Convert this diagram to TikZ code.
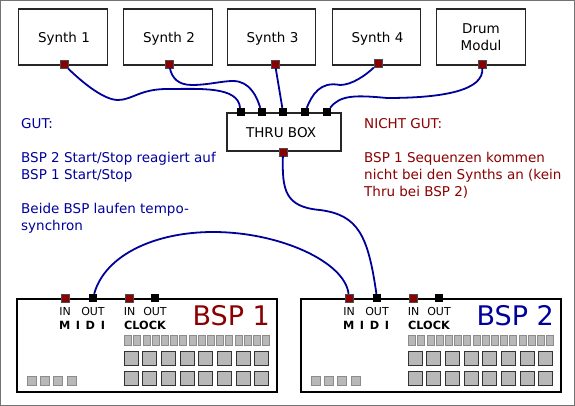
\documentclass[tikz,border=0pt]{standalone}
\usepackage{fontspec}
\setmainfont{DejaVu Sans}
\usetikzlibrary{positioning}
\definecolor{cabel}{HTML}{00009B}
\definecolor{portred}{HTML}{8B0000}
\definecolor{padgray}{HTML}{B8B8B8}
\begin{document}
\begin{tikzpicture}[
  x=1pt, y=-1pt,
  synth/.style={draw=black!85, line width=1.2pt, minimum width=88.5pt, minimum height=56pt, align=center, font=\fontsize{13.5}{17}\selectfont},
  oneline/.style={synth, text depth=0pt},
  device/.style={draw=black, line width=1.8pt, minimum width=260pt, minimum height=93pt},
  inport/.style={draw=black!70, fill=portred, line width=.4pt, minimum size=8pt, inner sep=0pt},
  outport/.style={fill=black, minimum size=8pt, inner sep=0pt},
  cabel/.style={draw=cabel, line width=1.8pt},
  note/.style={align=left, anchor=north west, inner sep=0pt, font=\fontsize{13.5}{17}\selectfont},
  pad/.style={draw=black!80, fill=padgray, line width=.9pt, minimum size=14pt, inner sep=0pt},
  strip/.style={draw=black!45, fill=padgray, line width=.8pt, minimum width=7pt, minimum height=10pt, inner sep=0pt},
  tiny/.style={draw=black!45, fill=padgray, line width=.8pt, minimum size=9pt, inner sep=0pt},
  small/.style={font=\fontsize{11}{12}\selectfont, inner sep=0pt},
  midi/.style={font=\bfseries\fontsize{11.3}{12}\selectfont, inner sep=0pt}
]
\useasboundingbox (0,0) rectangle (575,406);
\draw[black!55, line width=1pt] (0.5,0.5) rectangle (574.5,405.5);

% synths
\node[oneline] (s1) at (63,37) {\hspace*{2pt}Synth 1};
\node[oneline] (s2) at (168,37) {\hspace*{2pt}Synth 2};
\node[oneline] (s3) at (271.5,37) {\hspace*{2pt}Synth 3};
\node[oneline] (s4) at (376.5,37) {\hspace*{2pt}Synth 4};
\node[synth] (drum) at (481,37) {Drum\\Modul};
\node[inport] (s1o) at (64,64.5) {};
\node[inport] (s2o) at (169,64) {};
\node[inport] (s3o) at (275,64) {};
\node[inport] (s4o) at (378,63.5) {};
\node[inport] (drumo) at (482,64) {};

% thru box
\node[synth, minimum width=114pt, minimum height=38pt] (thru) at (284,132) {};
\node[font=\fontsize{13.5}{17}\selectfont, inner sep=0pt] (thrutext) at (281,133) {THRU BOX};
\foreach \i/\x in {1/240.5,2/261.5,3/283,4/305,5/327}
  \node[outport] (t\i) at (\x,112) {};
\node[inport] (tout) at (283,152) {};

% sequencers
\foreach \n/\dx/\col in {1/0/portred,2/284/cabel} {
  \begin{scope}[xshift=\dx pt]
    \node[device] (bsp\n) at (147,345.5) {};
    \node[inport] (in\n) at (65,298) {};
    \node[outport] (out\n) at (93,298) {};
    \node[inport] (clkin\n) at (129,298) {};
    \node[outport] (clkout\n) at (155,298) {};
    \node[small] (il\n) at (65,311) {IN};
    \node[small] (ol\n) at (93,311) {OUT};
    \node[small] (cil\n) at (129.5,311) {IN};
    \node[small] (col\n) at (155,311) {OUT};
    \node[midi] (ml\n) at (82,325) {M\hspace{1.7pt} I\hspace{1.7pt} D\hspace{1.7pt} I};
    \node[midi] (cl\n) at (145,325) {CLOCK};
    \node[font=\fontsize{27}{29}\selectfont, text=\col, inner sep=0pt, anchor=east] (name\n) at (270,316) {BSP \n};
    \foreach \i in {0,...,15}
      \node[strip] (st\n\i) at (128+9.2*\i,340.5) {};
    \foreach \i in {0,...,7} {
      \node[pad] (pa\n\i) at (131+18.7*\i,358.5) {};
      \node[pad] (pb\n\i) at (131+18.7*\i,378.5) {};
    }
    \foreach \i in {0,...,3}
      \node[tiny] (ti\n\i) at (31.5+13.4*\i,381) {};
  \end{scope}
}

% cabels
\draw[cabel] (s1o) .. controls (85,85) and (105,100) .. (118,100)
  .. controls (132,100) and (140,89) .. (167,89)
  .. controls (200,89) and (238,86) .. (t1);
\draw[cabel] (s2o) .. controls (172,78) and (178,85) .. (192,85)
  .. controls (208,85) and (222,81) .. (233,81)
  .. controls (250,81) and (257,97) .. (t2);
\draw[cabel] (s3o) -- (t3);
\draw[cabel] (s4o) .. controls (366,75) and (352,85) .. (340,85)
  .. controls (320,81) and (312,95) .. (t4);
\draw[cabel] (drumo) .. controls (484,90) and (445,98) .. (387,98)
  .. controls (355,95) and (340,95) .. (t5);
\draw[cabel] (tout) .. controls (282,190) and (285,207) .. (320,210)
  .. controls (358,215) and (368,235) .. (out2);
\draw[cabel] (out1) .. controls (105,255) and (155,232) .. (213,232)
  .. controls (280,232) and (345,262) .. (in2);

% notes
\node[note, text=cabel] (gut) at (21,118) {GUT:\\[17pt]BSP 2 Start/Stop reagiert auf\\BSP 1 Start/Stop\\[17pt]Beide BSP laufen tempo-\\synchron};
\node[note, text=portred] (nicht) at (364,118) {NICHT GUT:\\[17pt]BSP 1 Sequenzen kommen\\nicht bei den Synths an (kein\\Thru bei BSP 2)};
\end{tikzpicture}
\end{document}
